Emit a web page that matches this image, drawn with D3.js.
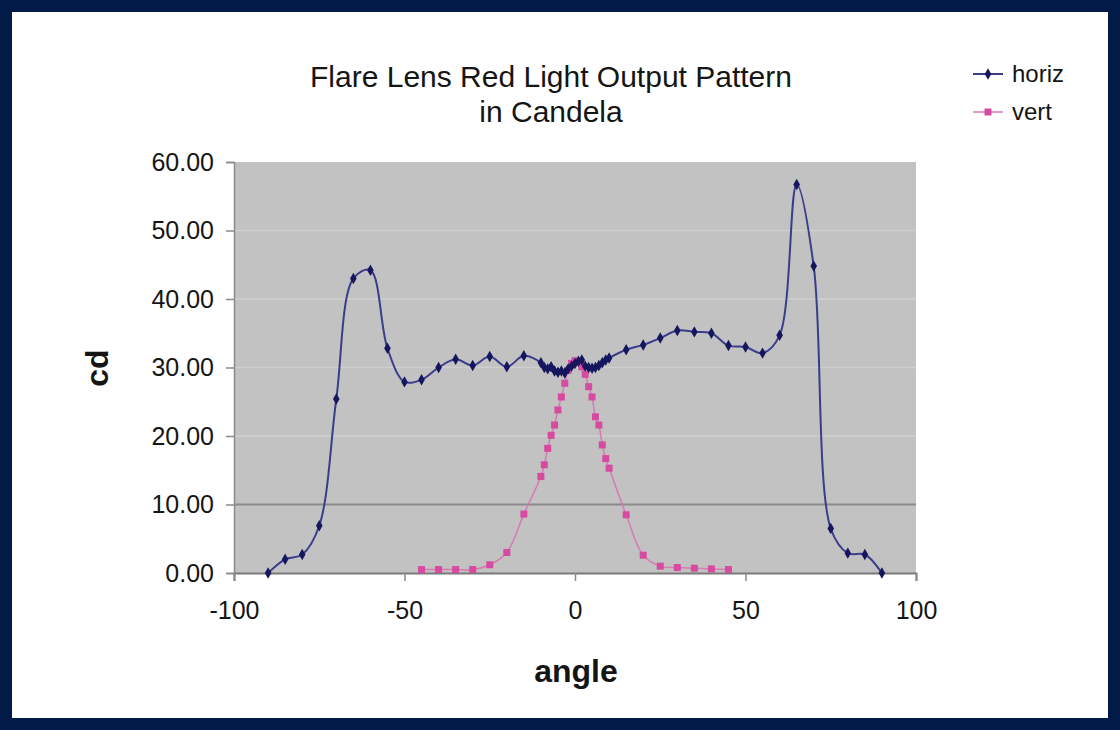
<!DOCTYPE html>
<html>
<head>
<meta charset="utf-8">
<script src="https://cdn.jsdelivr.net/npm/d3@7"></script>
<style>
  html, body { margin: 0; padding: 0; background: #ffffff; }
  svg { display: block; }
  text { font-family: "Liberation Sans", Arial, sans-serif; fill: #151515; }
</style>
</head>
<body>
<svg id="chart" width="1120" height="730"></svg>
<script>
// ---- data ----
const titleLines = ["Flare Lens Red Light Output Pattern", "in Candela"];
const xLabel = "angle";
const yLabel = "cd";
const seriesNames = ["horiz", "vert"];

const horizAngles = [-90, -85, -80, -75, -70, -65, -60, -55, -50, -45, -40, -35, -30, -25, -20, -15,
  -10, -9, -8, -7, -6, -5, -4, -3, -2, -1, 0, 1, 2, 3, 4, 5, 6, 7, 8, 9, 10,
  15, 20, 25, 30, 35, 40, 45, 50, 55, 60, 65, 70, 75, 80, 85, 90];
const horizValues = [0.0, 2.0, 2.7, 6.9, 25.4, 43.0, 44.2, 32.8, 27.9, 28.2, 30.0, 31.2, 30.3, 31.6, 30.1, 31.7,
  30.7, 30.0, 29.8, 30.1, 29.5, 29.3, 29.5, 29.2, 29.8, 30.2, 30.6, 30.9, 31.1, 30.2, 30.0, 29.9, 30.0, 30.3, 30.7, 31.1, 31.4,
  32.6, 33.3, 34.3, 35.4, 35.2, 35.0, 33.2, 33.0, 32.1, 34.7, 56.7, 44.8, 6.5, 2.9, 2.7, 0.0];

const vertAngles = [-45, -40, -35, -30, -25, -20, -15,
  -10, -9, -8, -7, -6, -5, -4, -3, -2, -1, 0, 1, 2, 3, 4, 5, 6, 7, 8, 9, 10,
  15, 20, 25, 30, 35, 40, 45];
const vertValues = [0.5, 0.5, 0.5, 0.5, 1.2, 3.0, 8.6,
  14.1, 15.8, 18.2, 20.1, 21.6, 23.8, 25.7, 27.7, 29.6, 30.6, 31.0, 30.8, 30.1, 29.0, 27.2, 25.7, 22.8, 21.6, 18.7, 16.7, 15.3,
  8.5, 2.6, 1.0, 0.8, 0.7, 0.6, 0.5];

const xTicks = [-100, -50, 0, 50, 100];
const yTicks = [0, 10, 20, 30, 40, 50, 60];

// ---- layout ----
const W = 1120, H = 730;
const plot = { left: 234, right: 916, top: 162, bottom: 573 };

const svg = d3.select("#chart");

// frame
svg.append("rect").attr("x", 0).attr("y", 0).attr("width", W).attr("height", H).attr("fill", "#011a48");
svg.append("rect").attr("x", 12).attr("y", 12).attr("width", W - 24).attr("height", H - 24).attr("fill", "#ffffff");

const x = d3.scaleLinear().domain([-100, 100]).range([plot.left, plot.right]);
const y = d3.scaleLinear().domain([0, 60]).range([plot.bottom, plot.top]);

// plot area
svg.append("rect")
  .attr("x", plot.left).attr("y", plot.top)
  .attr("width", plot.right - plot.left).attr("height", plot.bottom - plot.top)
  .attr("fill", "#c2c2c2");

// gridlines
svg.append("g").selectAll("line")
  .data(yTicks.filter(v => v > 0 && v < 60))
  .join("line")
  .attr("x1", plot.left).attr("x2", plot.right)
  .attr("y1", d => y(d)).attr("y2", d => y(d))
  .attr("stroke", d => d === 10 ? "#8a8a8a" : "#cfcfcf")
  .attr("stroke-width", d => d === 10 ? 2 : 1.5);

// axes
const yAxis = d3.axisLeft(y).tickValues(yTicks).tickFormat(d => d.toFixed(2)).tickSize(8).tickPadding(12);
const gy = svg.append("g").attr("transform", `translate(${plot.left},0)`).call(yAxis);
gy.select(".domain").attr("stroke", "#8a8a8a").attr("stroke-width", 1.5);
gy.selectAll(".tick line").attr("stroke", "#8a8a8a").attr("stroke-width", 1.5);
gy.selectAll(".tick text").style("font-size", "25px").style("font-family", "'Liberation Sans', Arial, sans-serif").attr("fill", "#151515");

const xAxis = d3.axisBottom(x).tickValues(xTicks).tickFormat(d => String(d)).tickSize(8).tickPadding(20);
const gx = svg.append("g").attr("transform", `translate(0,${plot.bottom})`).call(xAxis);
gx.select(".domain").attr("stroke", "#7a7a7a").attr("stroke-width", 2);
gx.selectAll(".tick line").attr("stroke", "#8a8a8a").attr("stroke-width", 1.5);
gx.selectAll(".tick text").style("font-size", "25px").style("font-family", "'Liberation Sans', Arial, sans-serif").attr("fill", "#151515");

// series
const horiz = horizAngles.map((a, i) => [a, horizValues[i]]);
const vert = vertAngles.map((a, i) => [a, vertValues[i]]);

const line = d3.line().x(d => x(d[0])).y(d => y(d[1])).curve(d3.curveCatmullRom.alpha(0.5));

svg.append("path").datum(vert)
  .attr("d", line).attr("fill", "none")
  .attr("stroke", "#d67ab4").attr("stroke-width", 1.5);

svg.append("path").datum(horiz)
  .attr("d", line).attr("fill", "none")
  .attr("stroke", "#3c3c8e").attr("stroke-width", 2);

const diamond = d3.symbol().type(d3.symbolDiamond).size(38);

svg.append("g").selectAll("rect")
  .data(vert).join("rect")
  .attr("x", d => x(d[0]) - 3.5).attr("y", d => y(d[1]) - 3.5)
  .attr("width", 7).attr("height", 7)
  .attr("fill", "#d64aa0");

svg.append("g").selectAll("path")
  .data(horiz).join("path")
  .attr("d", diamond)
  .attr("transform", d => `translate(${x(d[0])},${y(d[1])})`)
  .attr("fill", "#16165e");

// title
svg.append("text").attr("x", 551).attr("y", 87).attr("text-anchor", "middle")
  .style("font-size", "30px").text(titleLines[0]);
svg.append("text").attr("x", 551).attr("y", 122).attr("text-anchor", "middle")
  .style("font-size", "30px").text(titleLines[1]);

// axis titles
svg.append("text").attr("x", 576).attr("y", 682).attr("text-anchor", "middle")
  .style("font-size", "32px").style("font-weight", "bold").text(xLabel);
svg.append("text").attr("transform", "translate(108,368) rotate(-90)").attr("text-anchor", "middle")
  .style("font-size", "32px").style("font-weight", "bold").text(yLabel);

// legend
const legendY = [74, 112];
const lg = svg.append("g");
lg.append("line").attr("x1", 973).attr("x2", 1003).attr("y1", legendY[0]).attr("y2", legendY[0])
  .attr("stroke", "#3c3c8e").attr("stroke-width", 2);
lg.append("path").attr("d", diamond).attr("transform", `translate(988,${legendY[0]})`).attr("fill", "#16165e");
lg.append("text").attr("x", 1012).attr("y", legendY[0] + 8).style("font-size", "24px").text(seriesNames[0]);
lg.append("line").attr("x1", 973).attr("x2", 1003).attr("y1", legendY[1]).attr("y2", legendY[1])
  .attr("stroke", "#d67ab4").attr("stroke-width", 1.5);
lg.append("rect").attr("x", 984.5).attr("y", legendY[1] - 3.5).attr("width", 7).attr("height", 7).attr("fill", "#d64aa0");
lg.append("text").attr("x", 1012).attr("y", legendY[1] + 8).style("font-size", "24px").text(seriesNames[1]);
</script>
</body>
</html>
